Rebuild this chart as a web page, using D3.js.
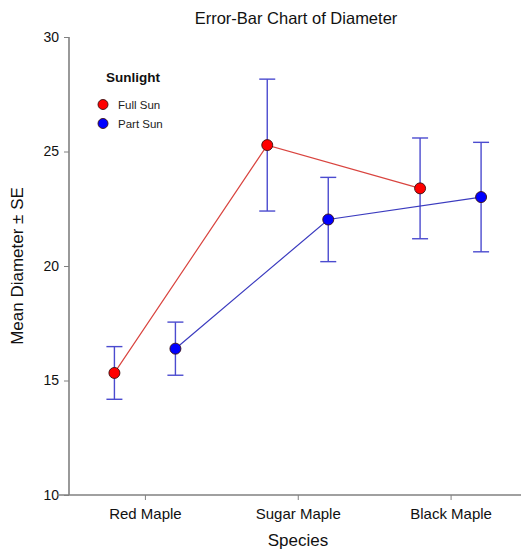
<!DOCTYPE html>
<html>
<head>
<meta charset="utf-8">
<script src="https://cdn.jsdelivr.net/npm/d3@7/dist/d3.min.js"></script>
<style>
  html, body { margin: 0; padding: 0; background: #fff; }
  svg { display: block; font-family: Arial, "Liberation Sans", sans-serif; }
</style>
</head>
<body>
<script>
// Mean diameter by species and sunlight group, with standard errors
const species = ["Red Maple", "Sugar Maple", "Black Maple"];
const groups = ["Full Sun", "Part Sun"];
const fullSunMean = [15.33, 25.28, 23.39];
const fullSunSE = [1.15, 2.88, 2.2];
const partSunMean = [16.39, 22.03, 23.01];
const partSunSE = [1.16, 1.84, 2.39];
const yTicks = [10, 15, 20, 25, 30];

const series = [
  { name: groups[0], mean: fullSunMean, se: fullSunSE, fill: "#ff0000", line: "#d9443f" },
  { name: groups[1], mean: partSunMean, se: partSunSE, fill: "#0000ff", line: "#3b3bbf" }
];

const W = 521, H = 550;
const m = { left: 69, top: 37, bottom: 55 };

const svg = d3.select("body").append("svg").attr("width", W).attr("height", H);

// the category band runs a little past the right edge of the window
const x = d3.scalePoint().domain(species).range([m.left - 0.5, 527]).padding(0.5);
const y = d3.scaleLinear().domain([10, 30]).range([H - m.bottom, m.top]);
const offset = d3.scalePoint().domain(groups).range([-30.5, 30.5]);

// axes
const axisColor = "#808080";
const yAxis = svg.append("g").attr("transform", `translate(${m.left},0)`)
  .call(d3.axisLeft(y).tickValues(yTicks).tickSize(5).tickPadding(5).tickSizeOuter(0));
const xAxis = svg.append("g").attr("transform", `translate(0,${H - m.bottom})`)
  .call(d3.axisBottom(x).tickSize(5).tickPadding(8).tickSizeOuter(0));
[yAxis, xAxis].forEach(g => {
  g.select(".domain").attr("stroke", axisColor).attr("stroke-width", 1.6);
  g.selectAll(".tick line").attr("stroke", axisColor);
  g.selectAll(".tick text").attr("fill", "#111")
    .style("font-family", "Arial, 'Liberation Sans', sans-serif");
});
yAxis.selectAll(".tick text").style("font-size", "14px");
xAxis.selectAll(".tick text").style("font-size", "15px");
// join the y-axis line to the x-axis line at the corner
yAxis.select(".domain").attr("d", `M0,${y(30)}V${y(10)}`);
xAxis.select(".domain").attr("d", `M${m.left - 12},0H${W}`);

// titles
svg.append("text").attr("x", 296).attr("y", 24).attr("text-anchor", "middle")
  .style("font-size", "16.5px").attr("fill", "#111").text("Error-Bar Chart of Diameter");
svg.append("text").attr("x", 298).attr("y", 546).attr("text-anchor", "middle")
  .style("font-size", "17px").attr("fill", "#111").text("Species");
svg.append("text").attr("transform", `translate(22.5,${(y(30) + y(10)) / 2}) rotate(-90)`)
  .attr("text-anchor", "middle").style("font-size", "17px").attr("fill", "#111")
  .text("Mean Diameter ± SE");

const errColor = "#4b4bcf";
const cap = 8;

series.forEach(s => {
  const pts = species.map((sp, i) => ({
    cx: x(sp) + offset(s.name), m: s.mean[i], se: s.se[i]
  }));
  // connecting line
  svg.append("path").datum(pts)
    .attr("fill", "none").attr("stroke", s.line).attr("stroke-width", 1.2)
    .attr("d", d3.line().x(d => d.cx).y(d => y(d.m)));
  // error bars
  const eb = svg.append("g").attr("stroke", errColor).attr("stroke-width", 1.4);
  pts.forEach(d => {
    eb.append("line").attr("x1", d.cx).attr("x2", d.cx)
      .attr("y1", y(d.m - d.se)).attr("y2", y(d.m + d.se));
    [d.m - d.se, d.m + d.se].forEach(v => {
      eb.append("line").attr("x1", d.cx - cap).attr("x2", d.cx + cap)
        .attr("y1", y(v)).attr("y2", y(v));
    });
  });
});

// markers on top
series.forEach(s => {
  svg.append("g").selectAll("circle")
    .data(species.map((sp, i) => ({ cx: x(sp) + offset(s.name), m: s.mean[i] })))
    .join("circle")
    .attr("cx", d => d.cx).attr("cy", d => y(d.m)).attr("r", 5.5)
    .attr("fill", s.fill).attr("stroke", "#3a1010").attr("stroke-width", 0.9);
});

// legend
const lg = svg.append("g");
lg.append("text").attr("x", 106).attr("y", 82).style("font-size", "13.5px")
  .style("font-weight", "bold").attr("fill", "#111").text("Sunlight");
series.forEach((s, i) => {
  const cy = 104.5 + i * 19;
  lg.append("circle").attr("cx", 103).attr("cy", cy).attr("r", 5)
    .attr("fill", s.fill).attr("stroke", "#3a1010").attr("stroke-width", 0.9);
  lg.append("text").attr("x", 118).attr("y", cy + 4).style("font-size", "11.5px")
    .attr("fill", "#222").text(s.name);
});
</script>
</body>
</html>
